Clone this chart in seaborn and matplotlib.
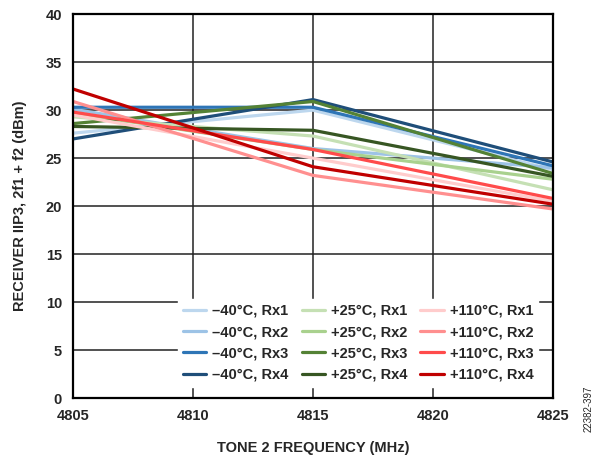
import matplotlib
matplotlib.use("Agg")
import matplotlib.pyplot as plt
import seaborn as sns
import pandas as pd

freqs = [4805, 4815, 4825]
series_labels = [
    "\u201340°C, Rx1", "\u201340°C, Rx2", "\u201340°C, Rx3", "\u201340°C, Rx4",
    "+25°C, Rx1", "+25°C, Rx2", "+25°C, Rx3", "+25°C, Rx4",
    "+110°C, Rx1", "+110°C, Rx2", "+110°C, Rx3", "+110°C, Rx4",
]
m40_rx1 = [27.6, 30.0, 23.8]
m40_rx2 = [30.1, 26.0, 24.0]
m40_rx3 = [30.3, 30.3, 24.2]
m40_rx4 = [27.0, 31.1, 24.6]
p25_rx1 = [29.3, 27.3, 21.7]
p25_rx2 = [29.7, 25.9, 22.8]
p25_rx3 = [28.6, 30.9, 23.4]
p25_rx4 = [28.3, 27.9, 23.1]
p110_rx1 = [29.5, 25.0, 20.5]
p110_rx2 = [30.9, 23.2, 19.7]
p110_rx3 = [29.8, 25.9, 20.8]
p110_rx4 = [32.2, 24.1, 20.2]
all_values = [m40_rx1, m40_rx2, m40_rx3, m40_rx4, p25_rx1, p25_rx2, p25_rx3, p25_rx4,
              p110_rx1, p110_rx2, p110_rx3, p110_rx4]
colors = ["#bdd7ee", "#9dc3e6", "#2e75b6", "#1f4e79",
          "#c5e0b4", "#a9d18e", "#548235", "#375623",
          "#ffcccc", "#ff8f8f", "#ff4b4b", "#c00000"]

rows = []
for lab, vals in zip(series_labels, all_values):
    for f, v in zip(freqs, vals):
        rows.append({"freq": f, "iip3": v, "series": lab})
df = pd.DataFrame(rows)

sns.set_style("white")
plt.rcParams["font.family"] = ["Liberation Sans", "DejaVu Sans"]
plt.rcParams["font.weight"] = "bold"

fig = plt.figure(figsize=(5.99, 4.57), dpi=100)
ax = fig.add_axes([0.122, 0.129, 0.801, 0.840])
sns.lineplot(data=df, x="freq", y="iip3", hue="series", hue_order=series_labels,
             palette=colors, linewidth=2.3, ax=ax, legend=True)

ax.set_xlim(4805, 4825)
ax.set_ylim(0, 40)
ax.set_xticks([4805, 4810, 4815, 4820, 4825])
ax.set_yticks(range(0, 41, 5))
ax.grid(True, color="#222222", linewidth=1.1)
ax.set_axisbelow(True)
for s in ax.spines.values():
    s.set_color("black")
    s.set_linewidth(1.6)
ax.tick_params(axis="both", labelsize=10.5, length=0, pad=8)
for t in ax.get_xticklabels() + ax.get_yticklabels():
    t.set_fontweight("bold")
ax.set_xlabel("TONE 2 FREQUENCY (MHz)", fontsize=10.5, fontweight="bold", labelpad=13)
ax.set_ylabel("RECEIVER IIP3, 2f1 + f2 (dBm)", fontsize=10.5, fontweight="bold", labelpad=13)

leg = ax.legend(ncol=3, loc="lower right", bbox_to_anchor=(0.985, 0.01), frameon=True,
                fancybox=False, framealpha=1.0, edgecolor="white", facecolor="white",
                prop={"weight": "bold", "size": 10.5}, handlelength=1.6, handletextpad=0.4,
                columnspacing=0.9, labelspacing=0.5, borderpad=0.35)
for line in leg.get_lines():
    line.set_linewidth(2.3)

fig.text(0.982, 0.105, "22382-397", rotation=90, fontsize=7, fontweight="normal",
         ha="center", va="center")

fig.savefig("out.png", dpi=100)
